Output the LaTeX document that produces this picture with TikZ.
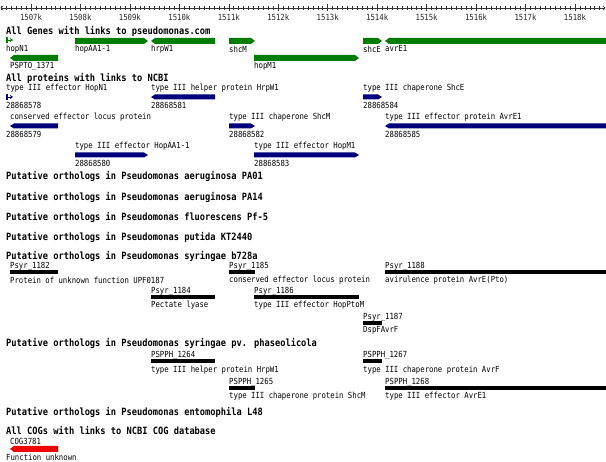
\documentclass[tikz,border=0pt]{standalone}
\usepackage{fontspec}
\usetikzlibrary{arrows.meta}
\newfontfamily\gbmono[FakeStretch=0.87]{DejaVu Sans Mono}
\definecolor{gbgreen}{RGB}{0,125,0}
\definecolor{gbnavy}{RGB}{0,0,125}
\definecolor{gbred}{RGB}{240,0,0}
\newcommand{\gbR}[5]{\fill[#5] (#1,#3-#4/2) -- (#2-4,#3-#4/2) -- (#2,#3) -- (#2-4,#3+#4/2) -- (#1,#3+#4/2) -- cycle;}
\newcommand{\gbL}[5]{\fill[#5] (#2,#3-#4/2) -- (#1+4,#3-#4/2) -- (#1,#3) -- (#1+4,#3+#4/2) -- (#2,#3+#4/2) -- cycle;}
\newcommand{\gbTiny}[3]{\fill[#3] (#1,#2-3) rectangle (#1+2,#2+3); \draw[#3,line width=0.8pt,-{Stealth[length=3pt,width=4pt]}] (#1+2,#2) -- (#1+7,#2);}
\tikzset{
  hdr/.style={font=\gbmono\fontsize{10}{11}\selectfont\bfseries, anchor=west, inner sep=0pt, text=black},
  lbl/.style={font=\gbmono\fontsize{8.4}{9}\selectfont, anchor=west, inner sep=0pt, text=black},
  rlbl/.style={font=\gbmono\fontsize{8.4}{9}\selectfont, anchor=center, inner sep=0pt, text=black!85},
}
\begin{document}
\begin{tikzpicture}[x=1pt,y=-1pt]
\useasboundingbox[fill=white] (0,0) rectangle (606,462);
% ruler
\draw[black!80,line width=0.6pt,{To[length=3pt,width=5pt]}-{To[length=3pt,width=5pt]}] (0.5,8) -- (605.5,8);
\foreach \i in {0,...,121} { \draw[black!80,line width=0.5pt] (1.3+\i*4.945,6) -- (1.3+\i*4.945,10); }
\foreach \k [count=\n from 0] in {1507,...,1518} {
  \draw[black!80,line width=0.6pt] (31+\n*49.45,4.5) -- (31+\n*49.45,11);
  \node[rlbl] (t\k) at (31+\n*49.45,17) {\k k};
}
% genes
\node[hdr] (hgenes) at (6,31) {All Genes with links to pseudomonas.com};
\gbTiny{6}{40}{gbgreen}
\node[lbl] (g1) at (6,49) {hopN1};
\gbR{75}{148}{41}{6}{gbgreen}
\node[lbl] (g2) at (75,49) {hopAA1-1};
\gbL{151}{215}{41}{6}{gbgreen}
\node[lbl] (g3) at (151,49) {hrpW1};
\gbR{229}{255}{41}{6}{gbgreen}
\node[lbl] (g4) at (229,49) {shcM};
\gbR{363}{382}{41}{6}{gbgreen}
\node[lbl] (g5) at (363,49) {shcE};
\gbL{385}{606}{41}{6}{gbgreen}
\node[lbl] (g6) at (385,49) {avrE1};
\gbL{10}{58}{58}{6}{gbgreen}
\node[lbl] (g7) at (10,66) {PSPTO\_1371};
\gbR{254}{359}{58}{6}{gbgreen}
\node[lbl] (g8) at (254,66) {hopM1};
% proteins
\node[hdr] (hprot) at (6,78.5) {All proteins with links to NCBI};
\node[lbl] (p1) at (6,88.5) {type III effector HopN1};
\gbTiny{6}{97}{gbnavy}
\node[lbl] (p1i) at (6,105) {28868578};
\node[lbl] (p2) at (151,88.5) {type III helper protein HrpW1};
\gbL{151}{215}{97}{5}{gbnavy}
\node[lbl] (p2i) at (151,105) {28868581};
\node[lbl] (p3) at (363,88.5) {type III chaperone ShcE};
\gbR{363}{382}{97}{5}{gbnavy}
\node[lbl] (p3i) at (363,105) {28868584};
\node[lbl] (p4) at (10,117) {conserved effector locus protein};
\gbL{10}{58}{126}{5}{gbnavy}
\node[lbl] (p4i) at (6,134) {28868579};
\node[lbl] (p5) at (229,117) {type III chaperone ShcM};
\gbR{229}{255}{126}{5}{gbnavy}
\node[lbl] (p5i) at (229,134) {28868582};
\node[lbl] (p6) at (385,117) {type III effector protein AvrE1};
\gbL{385}{606}{126}{5}{gbnavy}
\node[lbl] (p6i) at (385,134) {28868585};
\node[lbl] (p7) at (75,146) {type III effector HopAA1-1};
\gbR{75}{148}{155}{5}{gbnavy}
\node[lbl] (p7i) at (75,163) {28868580};
\node[lbl] (p8) at (254,146) {type III effector HopM1};
\gbR{254}{359}{155}{5}{gbnavy}
\node[lbl] (p8i) at (254,163) {28868583};
% ortholog headings
\node[hdr] (h1) at (6,176) {Putative orthologs in Pseudomonas aeruginosa PA01};
\node[hdr] (h2) at (6,197) {Putative orthologs in Pseudomonas aeruginosa PA14};
\node[hdr] (h3) at (6,217) {Putative orthologs in Pseudomonas fluorescens Pf-5};
\node[hdr] (h4) at (6,237) {Putative orthologs in Pseudomonas putida KT2440};
\node[hdr] (h5) at (6,256.5) {Putative orthologs in Pseudomonas syringae b728a};
% b728a
\node[lbl] (s1) at (10,266.5) {Psyr\_1182};
\fill (10,270.5) rectangle (58,274.5);
\node[lbl] (s1d) at (10,280) {Protein of unknown function UPF0187};
\node[lbl] (s2) at (229,266.5) {Psyr\_1185};
\fill (229,270.5) rectangle (255,274.5);
\node[lbl] (s2d) at (229,280) {conserved effector locus protein};
\node[lbl] (s3) at (385,266.5) {Psyr\_1188};
\fill (385,270.5) rectangle (606,274.5);
\node[lbl] (s3d) at (385,280) {avirulence protein AvrE(Pto)};
\node[lbl] (s4) at (151,291) {Psyr\_1184};
\fill (151,295.5) rectangle (215,299.5);
\node[lbl] (s4d) at (151,305) {Pectate lyase};
\node[lbl] (s5) at (254,291) {Psyr\_1186};
\fill (254,295.5) rectangle (359,299.5);
\node[lbl] (s5d) at (254,305) {type III effector HopPtoM};
\node[lbl] (s6) at (363,317) {Psyr\_1187};
\fill (363,321.5) rectangle (382,325.5);
\node[lbl] (s6d) at (363,330) {DspFAvrF};
% phaseolicola
\node[hdr] (h6) at (6,343) {Putative orthologs in Pseudomonas syringae pv. phaseolicola};
\node[lbl] (q1) at (151,355) {PSPPH\_1264};
\fill (151,359.5) rectangle (215,363.5);
\node[lbl] (q1d) at (151,370) {type III helper protein HrpW1};
\node[lbl] (q2) at (363,355) {PSPPH\_1267};
\fill (363,359.5) rectangle (382,363.5);
\node[lbl] (q2d) at (363,370) {type III chaperone protein AvrF};
\node[lbl] (q3) at (229,382) {PSPPH\_1265};
\fill (229,386.5) rectangle (255,390.5);
\node[lbl] (q3d) at (229,396) {type III chaperone protein ShcM};
\node[lbl] (q4) at (385,382) {PSPPH\_1268};
\fill (385,386.5) rectangle (606,390.5);
\node[lbl] (q4d) at (385,396) {type III effector AvrE1};
% entomophila
\node[hdr] (h7) at (6,412) {Putative orthologs in Pseudomonas entomophila L48};
% COG
\node[hdr] (h8) at (6,430.5) {All COGs with links to NCBI COG database};
\node[lbl] (c1) at (10,441) {COG3781};
\gbL{10}{58}{449}{6}{gbred}
\node[lbl] (c1d) at (6,457.5) {Function unknown};
\end{tikzpicture}
\end{document}
